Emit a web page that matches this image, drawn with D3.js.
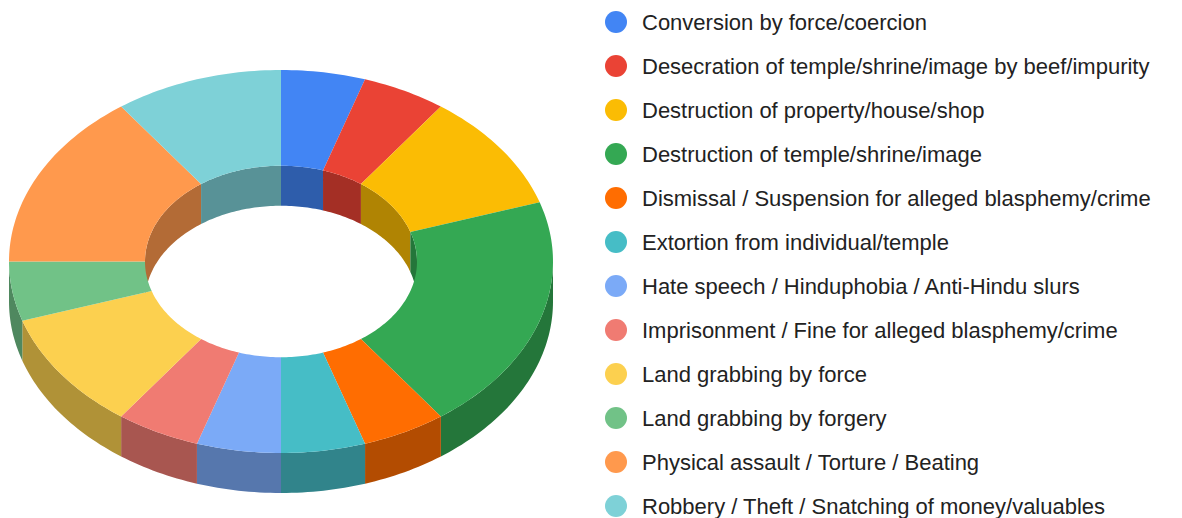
<!DOCTYPE html>
<html>
  <head>
    <script src="https://d3js.org/d3.v7.min.js"></script>
    <style>
      body { margin: 0; background: #fff; }
      svg { display: block; }
    </style>
  </head>
  <body>
    <script>
      // data (counts, 20 in total)
      let categories = [
        "Conversion by force/coercion",
        "Desecration of temple/shrine/image by beef/impurity",
        "Destruction of property/house/shop",
        "Destruction of temple/shrine/image",
        "Dismissal / Suspension for alleged blasphemy/crime",
        "Extortion from individual/temple",
        "Hate speech / Hinduphobia / Anti-Hindu slurs",
        "Imprisonment / Fine for alleged blasphemy/crime",
        "Land grabbing by force",
        "Land grabbing by forgery",
        "Physical assault / Torture / Beating",
        "Robbery / Theft / Snatching of money/valuables"
      ];
      let values = [1, 1, 2, 4, 1, 1, 1, 1, 2, 1, 3, 2];
      let colors = ["#4285f4", "#ea4335", "#fbbc04", "#34a853", "#ff6d01", "#46bdc6",
                    "#7baaf7", "#f07b72", "#fcd04f", "#71c287", "#ff994d", "#7ed1d7"];

      let width = 1182, height = 518;
      let cx = 281, cy = 261.5, rx = 272, ry = 191.5, hole = 0.5, depth = 40;

      let color = d3.scaleOrdinal().domain(categories).range(colors);
      let rows = categories.map((c, i) => ({name: c, value: values[i]}));
      let arcs = d3.pie().sort(null).value(d => d.value)(rows);

      let svg = d3.select("body").append("svg")
          .attr("width", width).attr("height", height);

      // point on the tilted ellipse, angle clockwise from 12 o'clock
      function pt(a, r, dy) {
        return [cx + rx * r * Math.sin(a), cy - ry * r * Math.cos(a) + (dy || 0)];
      }
      function arcPts(a0, a1, r, dy) {
        let n = Math.max(2, Math.ceil(Math.abs(a1 - a0) / 0.02));
        return d3.range(n + 1).map(i => pt(a0 + (a1 - a0) * i / n, r, dy));
      }
      let line = d3.line();
      function ring(a0, a1, rA, dyA, rB, dyB) {
        let p = arcPts(a0, a1, rA, dyA).concat(arcPts(a1, a0, rB, dyB));
        return line(p) + "Z";
      }

      let g = svg.append("g");

      // inner walls on the far side (seen through the hole)
      arcs.forEach(d => {
        let pieces = [[d.startAngle, Math.min(d.endAngle, Math.PI / 2)],
                      [Math.max(d.startAngle, 3 * Math.PI / 2), d.endAngle]];
        pieces.forEach(p => {
          if (p[1] <= p[0]) return;
          g.append("path")
            .attr("d", ring(p[0], p[1], hole, 0, hole, depth))
            .attr("fill", d3.color(color(d.data.name)).darker(1));
        });
      });

      // outer walls on the near side
      arcs.forEach(d => {
        let a0 = Math.max(d.startAngle, Math.PI / 2), a1 = Math.min(d.endAngle, 3 * Math.PI / 2);
        if (a1 <= a0) return;
        g.append("path")
          .attr("d", ring(a0, a1, 1, 0, 1, depth))
          .attr("fill", d3.color(color(d.data.name)).darker(1));
      });

      // top faces
      arcs.forEach(d => {
        g.append("path")
          .attr("d", ring(d.startAngle, d.endAngle, 1, 0, hole, 0))
          .attr("fill", color(d.data.name));
      });

      // legend
      let legend = svg.append("g").attr("transform", "translate(616,22)");
      let item = legend.selectAll("g").data(categories).enter().append("g")
          .attr("transform", (d, i) => "translate(0," + i * 44 + ")");
      item.append("circle").attr("r", 11).attr("fill", d => color(d));
      item.append("text")
          .attr("x", 26).attr("dy", "0.35em")
          .style("font-family", "Arial, 'Liberation Sans', sans-serif")
          .style("font-size", "22px")
          .attr("fill", "#222")
          .text(d => d);
    </script>
  </body>
</html>
